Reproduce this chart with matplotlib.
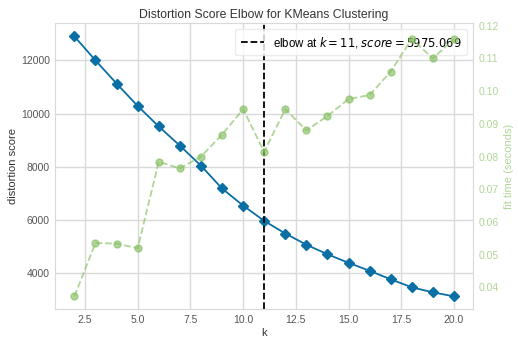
import matplotlib
matplotlib.use("Agg")
import matplotlib.pyplot as plt

plt.rcParams.update({
    "font.family": ["Liberation Sans", "DejaVu Sans"],
    "font.size": 8,
    "axes.titlesize": 8.8,
    "axes.labelsize": 8,
    "xtick.labelsize": 7.5,
    "ytick.labelsize": 7.5,
    "legend.fontsize": 8.3,
})

k_values = list(range(2, 21))
distortion = [12900, 12000, 11130, 10290, 9520, 8800, 8050, 7190, 6550, 5975.069,
              5500, 5080, 4720, 4400, 4100, 3780, 3480, 3290, 3140]
fit_time = [0.0373, 0.0536, 0.0534, 0.0520, 0.0784, 0.0764, 0.0800, 0.0867, 0.0945, 0.0815,
            0.0945, 0.0880, 0.0924, 0.0976, 0.0988, 0.1060, 0.1160, 0.1100, 0.1160]
elbow_k = 11
elbow_score = 5975.069

blue = "#0a6fa4"
green = "#86bf62"
grid_c = "#d9d9d9"

fig, ax = plt.subplots(figsize=(5.18, 3.40), dpi=100)
fig.subplots_adjust(left=0.107, right=0.913, top=0.932, bottom=0.09)

ax.plot(k_values, distortion, color=blue, marker="D", markersize=5, linewidth=1.3)
ax.axvline(elbow_k, color="black", linestyle="--", linewidth=1.3,
           label="elbow at $k = %d$, $score = %.3f$" % (elbow_k, elbow_score))
ax.set_title("Distortion Score Elbow for KMeans Clustering", color="#333333", pad=4)
ax.set_xlabel("k", color="#333333", labelpad=2)
ax.set_ylabel("distortion score", color="#333333", labelpad=2)
ax.set_ylim(2650, 13400)
ax.set_xlim(1.1, 20.9)
ax.set_yticks([4000, 6000, 8000, 10000, 12000])
ax.grid(True, color=grid_c, linewidth=1)
ax.set_axisbelow(True)
ax.tick_params(colors="#555555", length=0, pad=4)
for s in ax.spines.values():
    s.set_color(grid_c)
ax.legend(loc="upper right", frameon=True, edgecolor="#e6e6e6", framealpha=0.8,
          handlelength=2.0, borderpad=0.5)

ax2 = ax.twinx()
ax2.plot(k_values, fit_time, color=green, marker="o", markersize=5, linestyle="--",
         linewidth=1.3, alpha=0.65)
ax2.set_ylabel("fit time (seconds)", color=green, alpha=0.65)
ax2.set_ylim(0.0333, 0.1208)
ax2.set_yticks([0.04, 0.05, 0.06, 0.07, 0.08, 0.09, 0.10, 0.11, 0.12])
ax2.tick_params(axis="y", colors=green, length=0, pad=4)
for lbl in ax2.get_yticklabels():
    lbl.set_alpha(0.65)
ax2.grid(False)
for s in ax2.spines.values():
    s.set_visible(False)

fig.savefig("out.png", dpi=100)
